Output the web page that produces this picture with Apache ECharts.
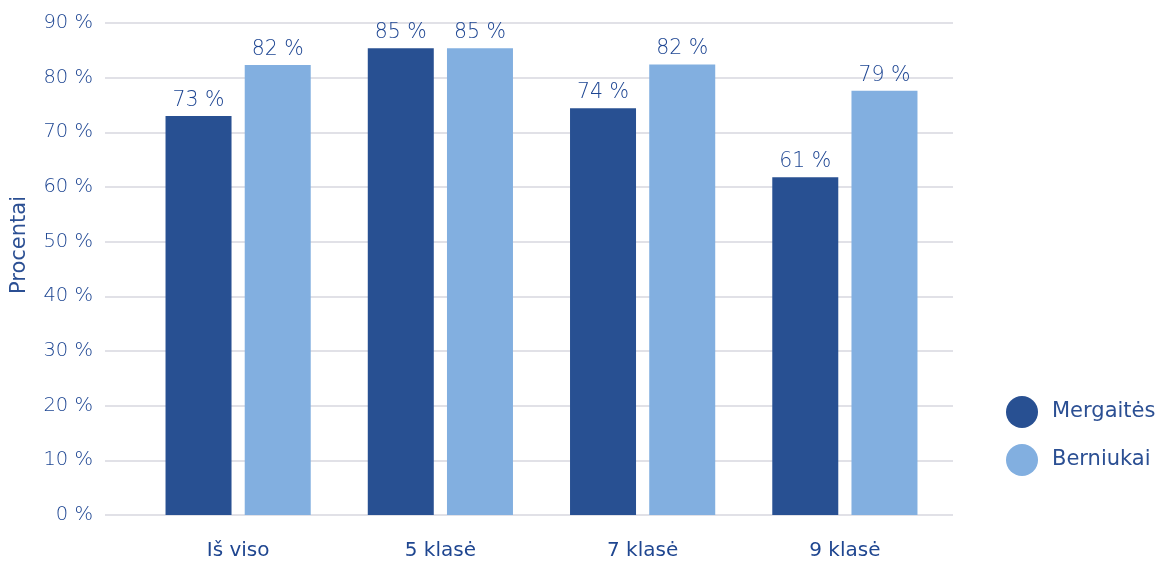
<!DOCTYPE html>
<html>
<head>
<meta charset="utf-8">
<script src="https://cdn.jsdelivr.net/npm/echarts@6/dist/echarts.min.js"></script>
<style>html,body{margin:0;padding:0;background:#fff}#c{width:1162px;height:561px}</style>
</head>
<body>
<div id="c"></div>
<script>
const categories = ['Iš viso', '5 klasė', '7 klasė', '9 klasė'];
const girls = [73.0, 85.4, 74.4, 61.8];
const boys = [82.3, 85.4, 82.4, 77.6];
const girlsLabels = ['73 %', '85 %', '74 %', '61 %'];
const boysLabels = ['82 %', '85 %', '82 %', '79 %'];
const yTicks = [0, 10, 20, 30, 40, 50, 60, 70, 80, 90];
const yAxisTitle = 'Procentai';

const textColor = '#2b4f93';
const lightText = '#1d4592';
const font = 'DejaVu Sans';
const chart = echarts.init(document.getElementById('c'));
chart.setOption({
  animation: false,
  textStyle: { fontFamily: font },
  grid: [
    { left: 105, right: 209, top: 23, bottom: 46 },
    { left: 137, right: 216, top: 23, bottom: 46 }
  ],
  graphic: [{
    type: 'text', x: 20, y: 245, rotation: Math.PI / 2,
    style: { text: yAxisTitle, fill: textColor, font: '21px "DejaVu Sans"', textAlign: 'center', textVerticalAlign: 'middle' }
  }],
  legend: {
    orient: 'vertical', left: 1001, top: 391, itemWidth: 32, itemHeight: 32, itemGap: 16,
    icon: 'circle',
    textStyle: { color: textColor, fontSize: 21, fontFamily: font, padding: [0, 0, 0, 9] },
    data: ['Mergaitės', 'Berniukai']
  },
  xAxis: [
    { type: 'category', gridIndex: 0, data: categories, show: false },
    { type: 'category', gridIndex: 1, data: categories,
      axisLine: { show: false }, axisTick: { show: false },
      axisLabel: { color: '#1f4690', fontSize: 20, margin: 26, fontFamily: font } }
  ],
  yAxis: [
    { type: 'value', gridIndex: 0, min: yTicks[0], max: yTicks[yTicks.length - 1], interval: 10,
      axisLine: { show: false }, axisTick: { show: false },
      axisLabel: { color: lightText, fontSize: 19.5, fontWeight: 300, margin: 12, formatter: v => v + ' %', fontFamily: font },
      splitLine: { lineStyle: { color: '#e1e1e7', width: 2 } } },
    { type: 'value', gridIndex: 1, min: 0, max: 90, interval: 10, show: false }
  ],
  series: [
    { name: 'Mergaitės', type: 'bar', xAxisIndex: 1, yAxisIndex: 1, data: girls,
      barWidth: 66, barGap: '20%', itemStyle: { color: '#285092' },
      label: { show: true, position: 'top', distance: 5, color: lightText, fontSize: 20.5, fontWeight: 300, fontFamily: font,
        formatter: p => girlsLabels[p.dataIndex] } },
    { name: 'Berniukai', type: 'bar', xAxisIndex: 1, yAxisIndex: 1, data: boys,
      barWidth: 66, barGap: '20%', itemStyle: { color: '#82afe0' },
      label: { show: true, position: 'top', distance: 5, color: lightText, fontSize: 20.5, fontWeight: 300, fontFamily: font,
        formatter: p => boysLabels[p.dataIndex] } }
  ]
});
</script>
</body>
</html>
